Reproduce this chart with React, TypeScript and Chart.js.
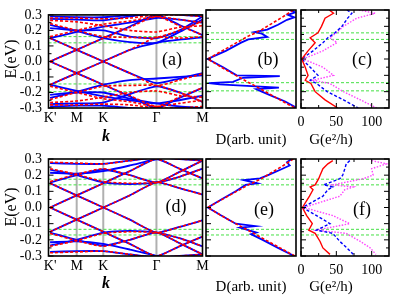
import React, { useEffect, useRef } from "react";
import { Chart, registerables } from "chart.js";
Chart.register(...registerables);

const PAGE_W = 394;
const PAGE_H = 296;
const SERIF = '"Liberation Serif", "Times New Roman", serif';

// ---------- shared axis data ----------
const kNodes = [0, 0.5, 1.0, 1.5, 2.0, 2.433, 2.866];
const kTickPos = [0, 0.5, 1.0, 2.0, 2.866];
const kTickLabels = ["K'", "M", "K", "Γ", "M"];
const kGrayLines = [0.5, 1.0, 2.0];
const eTickVals = [-0.3, -0.2, -0.1, 0, 0.1, 0.2, 0.3];
const eTickLabels = ["-0.3", "-0.2", "-0.1", "0.0", "0.1", "0.2", "0.3"];
const eMinorVals = [-0.25, -0.15, -0.05, 0.05, 0.15, 0.25];
const gTickVals = [0, 50, 100];
const gTickLabels = ["0", "50", "100"];
const gMinorVals = [25, 75];

// ---------- green reference energies ----------
const greenTop = [0.16, 0.12, -0.145, -0.195];
const greenBottom = [0.175, 0.14, -0.135, -0.17];

// ---------- band structure (a) ----------
const bandsABlue = [
  [0, 0.075, 0.15, 0.225, 0.3, 0.235, 0.17],
  [0.15, 0.075, 0, -0.075, -0.14, -0.11, -0.075],
  [0, -0.075, -0.15, -0.225, -0.3, -0.235, -0.17],
  [-0.15, -0.075, 0, 0.075, 0.12, 0.14, 0.155],
  [0.15, 0.19, 0.225, 0.25, 0.28, 0.27, 0.25],
  [0.235, 0.195, 0.15, 0.125, 0.12, 0.19, 0.27],
  [0.275, 0.27, 0.265, 0.29, 0.31, 0.3, 0.29],
  [0.215, 0.2, 0.2, 0.16, 0.15, 0.2, 0.29],
  [0.29, 0.285, 0.285, 0.3, 0.33, 0.33, 0.33],
  [-0.15, -0.19, -0.225, -0.25, -0.27, -0.25, -0.22],
  [-0.235, -0.195, -0.15, -0.12, -0.11, -0.1, -0.09],
  [-0.275, -0.27, -0.265, -0.21, -0.16, -0.2, -0.26],
  [-0.215, -0.2, -0.2, -0.24, -0.27, -0.29, -0.3],
  [-0.29, -0.285, -0.285, -0.3, -0.31, -0.3, -0.3],
];
const bandsARed = [
  [0, 0.075, 0.15, 0.22, 0.29, 0.23, 0.17],
  [0.15, 0.075, 0, -0.075, -0.155, -0.12, -0.08],
  [0, -0.075, -0.15, -0.22, -0.29, -0.23, -0.17],
  [-0.15, -0.075, 0, 0.075, 0.155, 0.15, 0.16],
  [0.16, 0.2, 0.24, 0.26, 0.29, 0.27, 0.25],
  [0.245, 0.2, 0.16, 0.155, 0.155, 0.2, 0.26],
  [0.28, 0.28, 0.275, 0.28, 0.3, 0.3, 0.29],
  [-0.16, -0.2, -0.24, -0.26, -0.29, -0.27, -0.25],
  [-0.245, -0.2, -0.16, -0.155, -0.155, -0.2, -0.26],
  [-0.28, -0.28, -0.275, -0.28, -0.3, -0.3, -0.29],
  [0.265, 0.255, 0.23, 0.2, 0.19, 0.22, 0.23],
  [-0.265, -0.255, -0.23, -0.2, -0.19, -0.22, -0.23],
];

// ---------- band structure (d) ----------
const bandsDBlue = [
  [0, 0.075, 0.15, 0.225, 0.3, 0.24, 0.18],
  [0.15, 0.075, 0, -0.075, -0.155, -0.12, -0.08],
  [0, -0.075, -0.15, -0.225, -0.3, -0.24, -0.18],
  [-0.15, -0.075, 0, 0.075, 0.155, 0.12, 0.08],
  [0.155, 0.2, 0.235, 0.2, 0.155, 0.22, 0.29],
  [0.235, 0.2, 0.155, 0.145, 0.155, 0.19, 0.24],
  [0.275, 0.27, 0.27, 0.29, 0.31, 0.3, 0.29],
  [0.215, 0.21, 0.225, 0.26, 0.3, 0.32, 0.33],
  [-0.155, -0.2, -0.235, -0.2, -0.155, -0.22, -0.29],
  [-0.235, -0.2, -0.155, -0.145, -0.155, -0.19, -0.24],
  [-0.275, -0.27, -0.27, -0.29, -0.31, -0.3, -0.29],
  [-0.215, -0.21, -0.225, -0.26, -0.3, -0.32, -0.33],
];
const bandsDRed = [
  [0, 0.075, 0.15, 0.225, 0.3, 0.24, 0.18],
  [0.15, 0.075, 0, -0.075, -0.155, -0.12, -0.08],
  [0, -0.075, -0.15, -0.225, -0.3, -0.24, -0.18],
  [-0.15, -0.075, 0, 0.075, 0.155, 0.12, 0.08],
  [0.16, 0.205, 0.24, 0.2, 0.155, 0.22, 0.29],
  [0.24, 0.205, 0.16, 0.15, 0.155, 0.19, 0.24],
  [0.28, 0.275, 0.27, 0.29, 0.31, 0.3, 0.29],
  [-0.16, -0.205, -0.24, -0.2, -0.155, -0.22, -0.29],
  [-0.24, -0.205, -0.16, -0.15, -0.155, -0.19, -0.24],
  [-0.28, -0.275, -0.27, -0.29, -0.31, -0.3, -0.29],
];

// ---------- DOS (b) ----------
const dosBBlueE = [0.3, 0.285, 0.27, 0.255, 0.24, 0.21, 0.18, 0.165, 0.155, 0.135, 0.12, 0.1, 0.05, 0, -0.05, -0.1, -0.105, -0.115, -0.14, -0.148, -0.155, -0.175, -0.185, -0.2, -0.23, -0.26, -0.29, -0.3];
const dosBBlueD = [0.93, 0.99, 0.91, 0.98, 0.9, 0.8, 0.68, 0.54, 0.62, 0.68, 0.47, 0.39, 0.22, 0.02, 0.19, 0.34, 0.82, 0.41, 0.3, 0.03, 0.15, 0.81, 0.56, 0.62, 0.75, 0.88, 0.98, 1.0];
const dosBRedE = [0.3, 0.26, 0.22, 0.18, 0.16, 0.14, 0.1, 0.05, 0, -0.05, -0.1, -0.14, -0.16, -0.2, -0.24, -0.28, -0.3];
const dosBRedD = [0.97, 0.86, 0.74, 0.62, 0.55, 0.47, 0.34, 0.18, 0.02, 0.17, 0.33, 0.46, 0.53, 0.66, 0.79, 0.92, 0.99];

// ---------- DOS (e) ----------
const dosEBlueE = [0.3, 0.28, 0.26, 0.24, 0.2, 0.18, 0.17, 0.15, 0.14, 0.1, 0.05, 0, -0.05, -0.1, -0.115, -0.125, -0.14, -0.155, -0.165, -0.2, -0.25, -0.3];
const dosEBlueD = [0.95, 0.9, 0.93, 0.85, 0.69, 0.6, 0.42, 0.57, 0.44, 0.33, 0.17, 0.02, 0.17, 0.33, 0.55, 0.38, 0.47, 0.56, 0.5, 0.63, 0.8, 0.98];
const dosERedE = [0.3, 0.26, 0.22, 0.18, 0.16, 0.14, 0.1, 0.05, 0, -0.05, -0.1, -0.13, -0.16, -0.2, -0.24, -0.28, -0.3];
const dosERedD = [0.97, 0.86, 0.74, 0.62, 0.55, 0.47, 0.34, 0.18, 0.02, 0.17, 0.33, 0.43, 0.53, 0.66, 0.79, 0.92, 0.99];

// ---------- conductance (c) ----------
const gCE = [0.3, 0.28, 0.25, 0.2, 0.16, 0.13, 0.1, 0.05, 0, -0.05, -0.1, -0.13, -0.15, -0.2, -0.25, -0.3];
const gCRed = [40, 46, 34, 29, 24, 13, 20, 10, 1, 6, 10, 6, 14, 20, 34, 52];
const gCBlue = [65, 72, 66, 58, 48, 38, 31, 17, 1, 13, 24, 13, 22, 37, 60, 81];
const gCMag = [82, 105, 79, 60, 50, 41, 51, 31, 3, 31, 46, 17, 41, 60, 84, 107];

// ---------- conductance (f) ----------
const gFE = [0.29, 0.27, 0.24, 0.2, 0.178, 0.14, 0.127, 0.11, 0.07, 0, -0.05, -0.1, -0.14, -0.16, -0.21, -0.25, -0.29];
const gFRed = [45, 38, 31, 27, 25, 20, 13, 17, 12, 2, 8, 16, 11, 20, 27, 31, 41];
const gFBlue = [69, 64, 62, 59, 55, 32, 45, 38, 31, 2, 22, 41, 22, 45, 55, 65, 74];
const gFMag = [100, 121, 100, 102, 88, 45, 74, 62, 55, 4, 45, 69, 22, 64, 84, 98, 106];

// ---------- styles ----------
const BLUE = "#0000ff";
const RED = "#ff0000";
const MAG = "#ff44ff";
const GREEN = "#44e044";
const GRAY = "#b0b0b0";

type TextItem = { text: string; x: number; y: number; size: number; style?: string; rotate?: boolean };

type Panel = {
  L: number; T: number; R: number; B: number;
  xMin: number; xMax: number;
  showY: boolean;
  xTicks?: number[]; xLabels?: string[]; xPad?: number;
  vlines?: number[];
  ySides: string[];
  xInner?: boolean;
  datasets: any[];
  texts: TextItem[];
};

function bandSets(bands: number[][], color: string, dash: number[], width: number) {
  return bands.map((b) => ({
    data: kNodes.map((k, i) => ({ x: k, y: b[i] })),
    borderColor: color, borderWidth: width, borderDash: dash,
    pointRadius: 0, tension: 0.2, fill: false,
  }));
}
function curveSet(xs: number[], ys: number[], color: string, dash: number[], width: number) {
  return {
    data: xs.map((x, i) => ({ x, y: ys[i] })),
    borderColor: color, borderWidth: width, borderDash: dash,
    pointRadius: 0, tension: 0, fill: false,
  };
}
function greenSets(es: number[], x0: number, x1: number) {
  return es.map((e) => ({
    data: [{ x: x0, y: e }, { x: x1, y: e }],
    borderColor: GREEN, borderWidth: 1, borderDash: [3, 2], pointRadius: 0, fill: false,
  }));
}

const KMIN = -0.03;
const KMAX = 2.866;
const GMAX = 124.5;

const rowTop = { T: 10, B: 108 };
const rowBot = { T: 159, B: 256 };

const PANELS: Panel[] = [
  {
    L: 48.5, R: 202.5, ...rowTop, xMin: KMIN, xMax: KMAX, showY: true,
    xTicks: kTickPos, xLabels: kTickLabels, xPad: 2, vlines: kGrayLines, ySides: ["left"],
    datasets: [
      ...bandSets(bandsARed, RED, [3, 2], 1.6),
      ...bandSets(bandsABlue, BLUE, [], 1.8),
      ...greenSets(greenTop, KMIN, KMAX),
    ],
    texts: [
      { text: "E(eV)", x: 12, y: 59, size: 16, rotate: true },
      { text: "k", x: 106, y: 137, size: 16, style: "italic bold" },
      { text: "(a)", x: 172, y: 60, size: 18 },
    ],
  },
  {
    L: 206, R: 296, ...rowTop, xMin: 0, xMax: 1, showY: false, ySides: ["left"],
    datasets: [
      curveSet(dosBRedD, dosBRedE, RED, [3, 2], 1.6),
      curveSet(dosBBlueD, dosBBlueE, BLUE, [], 1.8),
      ...greenSets(greenTop, 0, 1),
    ],
    texts: [
      { text: "D(arb. unit)", x: 251, y: 140, size: 15 },
      { text: "(b)", x: 268, y: 60, size: 18 },
    ],
  },
  {
    L: 301, R: 389, ...rowTop, xMin: 0, xMax: GMAX, showY: false,
    xTicks: gTickVals, xLabels: gTickLabels, xPad: 6, ySides: ["left", "right"], xInner: true,
    datasets: [
      curveSet(gCRed, gCE, RED, [], 1.4),
      curveSet(gCBlue, gCE, BLUE, [3, 2], 1.4),
      curveSet(gCMag, gCE, MAG, [1.5, 1.5], 1.4),
      ...greenSets(greenTop, 0, GMAX),
    ],
    texts: [
      { text: "G(e²/h)", x: 331, y: 140, size: 15 },
      { text: "(c)", x: 362, y: 60, size: 18 },
    ],
  },
  {
    L: 48.5, R: 202.5, ...rowBot, xMin: KMIN, xMax: KMAX, showY: true,
    xTicks: kTickPos, xLabels: kTickLabels, xPad: 2, vlines: kGrayLines, ySides: ["left"],
    datasets: [
      ...bandSets(bandsDRed, RED, [3, 2], 1.6),
      ...bandSets(bandsDBlue, BLUE, [], 1.8),
      ...greenSets(greenBottom, KMIN, KMAX),
    ],
    texts: [
      { text: "E(eV)", x: 12, y: 207, size: 16, rotate: true },
      { text: "k", x: 106, y: 284, size: 16, style: "italic bold" },
      { text: "(d)", x: 176, y: 207, size: 18 },
    ],
  },
  {
    L: 206, R: 296, ...rowBot, xMin: 0, xMax: 1, showY: false, ySides: ["left"],
    datasets: [
      curveSet(dosERedD, dosERedE, RED, [3, 2], 1.6),
      curveSet(dosEBlueD, dosEBlueE, BLUE, [], 1.8),
      ...greenSets(greenBottom, 0, 1),
    ],
    texts: [
      { text: "D(arb. unit)", x: 251, y: 287, size: 15 },
      { text: "(e)", x: 264, y: 210, size: 18 },
    ],
  },
  {
    L: 301, R: 389, ...rowBot, xMin: 0, xMax: GMAX, showY: false,
    xTicks: gTickVals, xLabels: gTickLabels, xPad: 6, ySides: ["left", "right"], xInner: true,
    datasets: [
      curveSet(gFRed, gFE, RED, [], 1.4),
      curveSet(gFBlue, gFE, BLUE, [3, 2], 1.4),
      curveSet(gFMag, gFE, MAG, [1.5, 1.5], 1.4),
      ...greenSets(greenBottom, 0, GMAX),
    ],
    texts: [
      { text: "G(e²/h)", x: 331, y: 287, size: 15 },
      { text: "(f)", x: 362, y: 210, size: 18 },
    ],
  },
];

const Y_AXIS_W = 40;
const X_AXIS_H = 24;

function makeDecor(p: Panel) {
  return {
    id: "decor",
    beforeDatasetsDraw(chart: any) {
      const { ctx, chartArea: a, scales } = chart;
      if (p.vlines) {
        ctx.save();
        ctx.strokeStyle = GRAY;
        ctx.lineWidth = 2;
        for (const v of p.vlines) {
          const x = scales.x.getPixelForValue(v);
          ctx.beginPath();
          ctx.moveTo(x, a.top);
          ctx.lineTo(x, a.bottom);
          ctx.stroke();
        }
        ctx.restore();
      }
    },
    afterDatasetsDraw(chart: any) {
      const { ctx, chartArea: a, scales } = chart;
      ctx.save();
      ctx.strokeStyle = "#000";
      ctx.lineWidth = 1;
      const ys = scales.y;
      for (const side of p.ySides) {
        const x0 = side === "left" ? a.left : a.right;
        const dir = side === "left" ? 1 : -1;
        for (const v of eTickVals) {
          const y = ys.getPixelForValue(v);
          ctx.beginPath(); ctx.moveTo(x0, y); ctx.lineTo(x0 + dir * 5, y); ctx.stroke();
        }
        for (const v of eMinorVals) {
          const y = ys.getPixelForValue(v);
          ctx.beginPath(); ctx.moveTo(x0, y); ctx.lineTo(x0 + dir * 3, y); ctx.stroke();
        }
      }
      if (p.xInner) {
        const xs = scales.x;
        for (const [vals, len] of [[gTickVals, 5], [gMinorVals, 3]] as [number[], number][]) {
          for (const v of vals) {
            const x = xs.getPixelForValue(v);
            ctx.beginPath(); ctx.moveTo(x, a.bottom); ctx.lineTo(x, a.bottom - len); ctx.stroke();
            ctx.beginPath(); ctx.moveTo(x, a.top); ctx.lineTo(x, a.top + len); ctx.stroke();
          }
        }
      }
      ctx.lineWidth = 1.6;
      ctx.strokeRect(a.left, a.top, a.right - a.left, a.bottom - a.top);
      ctx.fillStyle = "#000";
      ctx.textAlign = "center";
      ctx.textBaseline = "middle";
      for (const t of p.texts) {
        ctx.font = `${t.style ? t.style + " " : ""}${t.size}px ${SERIF}`;
        if (t.rotate) {
          ctx.save();
          ctx.translate(t.x, t.y);
          ctx.rotate(-Math.PI / 2);
          ctx.fillText(t.text, 0, 0);
          ctx.restore();
        } else {
          ctx.fillText(t.text, t.x, t.y);
        }
      }
      ctx.restore();
    },
  };
}

function buildConfig(p: Panel): any {
  const showX = !!p.xTicks;
  const yW = p.showY ? Y_AXIS_W : 0;
  const xH = showX ? X_AXIS_H : 0;
  return {
    type: "line",
    data: { datasets: p.datasets },
    options: {
      animation: false,
      responsive: false,
      maintainAspectRatio: false,
      devicePixelRatio: 1,
      events: [],
      layout: {
        padding: { left: p.L - yW, top: p.T, right: PAGE_W - p.R, bottom: PAGE_H - p.B - xH },
      },
      plugins: { legend: { display: false }, tooltip: { enabled: false }, title: { display: false } },
      scales: {
        x: {
          type: "linear",
          min: p.xMin,
          max: p.xMax,
          display: showX,
          grid: { display: false, drawTicks: false },
          border: { display: false },
          ticks: {
            autoSkip: false, maxRotation: 0, minRotation: 0,
            padding: p.xPad ?? 2,
            color: "#000",
            font: { family: SERIF, size: 14 },
            callback: (_v: any, i: number) => (p.xLabels ? p.xLabels[i] : ""),
          },
          afterBuildTicks: (s: any) => {
            if (p.xTicks) s.ticks = p.xTicks.map((v) => ({ value: v }));
          },
          afterFit: (s: any) => { s.height = xH; },
        },
        y: {
          type: "linear",
          min: -0.3,
          max: 0.3,
          display: p.showY,
          grid: { display: false, drawTicks: false },
          border: { display: false },
          ticks: {
            autoSkip: false,
            padding: 6.5,
            color: "#000",
            font: { family: SERIF, size: 14 },
            callback: (_v: any, i: number) => eTickLabels[i],
          },
          afterBuildTicks: (s: any) => { s.ticks = eTickVals.map((v) => ({ value: v })); },
          afterFit: (s: any) => { s.width = yW; },
        },
      },
    },
    plugins: [makeDecor(p)],
  };
}

export default function App() {
  const refs = useRef<(HTMLCanvasElement | null)[]>([]);
  useEffect(() => {
    const charts = PANELS.map((p, i) => new Chart(refs.current[i] as HTMLCanvasElement, buildConfig(p)));
    return () => charts.forEach((c) => c.destroy());
  }, []);
  return (
    <div style={{ position: "fixed", left: 0, top: 0, width: PAGE_W, height: PAGE_H, background: "#fff" }}>
      {PANELS.map((_p, i) => (
        <canvas
          key={i}
          ref={(el) => { refs.current[i] = el; }}
          width={PAGE_W}
          height={PAGE_H}
          style={{ position: "absolute", left: 0, top: 0, width: PAGE_W, height: PAGE_H }}
        />
      ))}
    </div>
  );
}
